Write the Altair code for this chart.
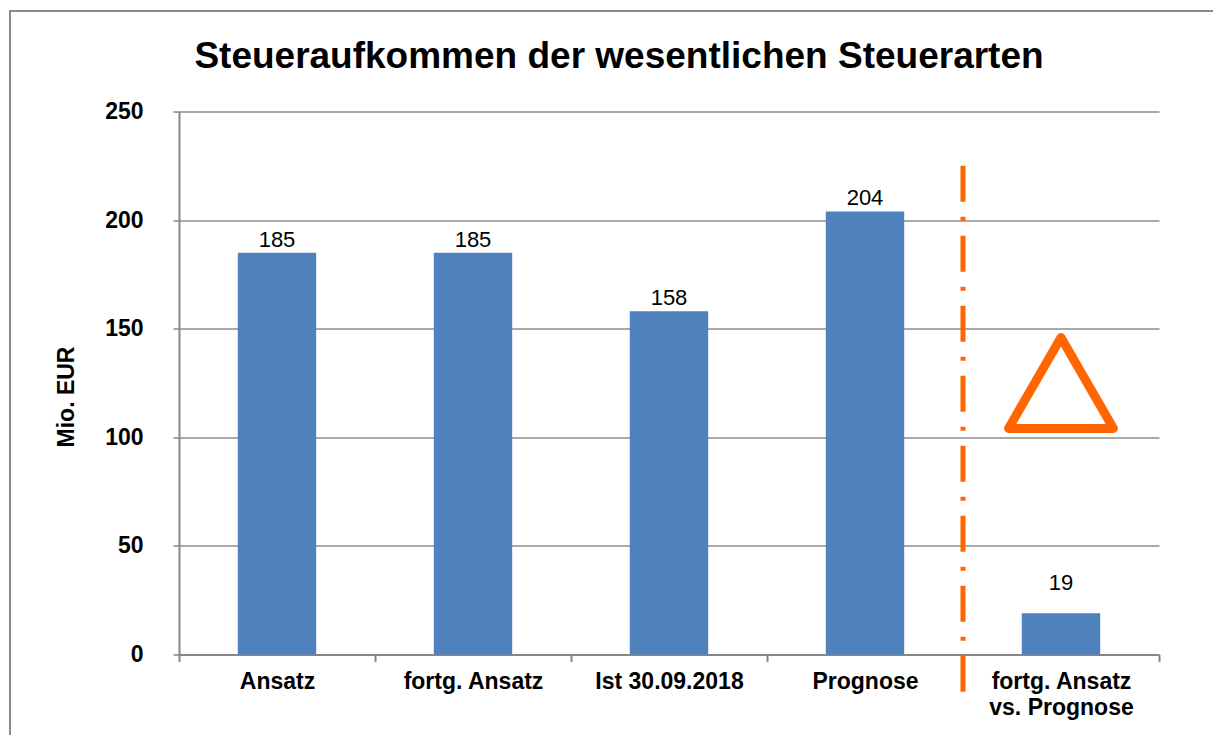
import altair as alt
import pandas as pd

# ---- data ----
categories = ["Ansatz", "fortg. Ansatz", "Ist 30.09.2018", "Prognose", "fortg. Ansatz\nvs. Prognose"]
values = [185, 185, 158, 204, 19]

# annotations
separator_category = ["fortg. Ansatz\nvs. Prognose"]
separator_top = [225]
separator_bottom = [-17.5]
delta_category = ["fortg. Ansatz\nvs. Prognose"]
delta_value = [125]

y_ticks = [0, 50, 100, 150, 200, 250]

FONT = "Liberation Sans"
BLUE = "#4F81BD"
ORANGE = "#FF6600"
GRAY = "#878787"

df = pd.DataFrame({"cat": categories, "val": values})
df["main"] = [True, True, True, True, False]

x_enc = alt.X(
    "cat:N",
    sort=categories,
    scale=alt.Scale(paddingInner=0, paddingOuter=0),
    axis=alt.Axis(
        title=None,
        labelAngle=0,
        labelFont=FONT,
        labelFontSize=23,
        labelFontWeight="bold",
        labelColor="black",
        labelPadding=9,
        labelLineHeight=26,
        labelExpr="split(datum.label, '\\n')",
        tickBand="extent",
        tickSize=7,
        tickColor=GRAY,
        tickWidth=2,
        domainColor=GRAY,
        domainWidth=2,
        grid=False,
    ),
)

y_scale = alt.Scale(domain=[0, 250], nice=False)
y_enc = alt.Y(
    "val:Q",
    scale=y_scale,
    axis=alt.Axis(
        title="Mio. EUR",
        titleFont=FONT,
        titleFontSize=23,
        titleFontWeight="bold",
        titleColor="black",
        titleAngle=-90,
        titleAlign="center",
        titleBaseline="alphabetic",
        titleX=-106,
        titleY=285,
        values=y_ticks,
        labelFont=FONT,
        labelFontSize=23,
        labelFontWeight="bold",
        labelColor="black",
        labelPadding=30,
        tickSize=6,
        tickColor=GRAY,
        tickWidth=1.5,
        domainColor=GRAY,
        domainWidth=2,
        grid=True,
        gridColor="#8C8C8C",
        gridWidth=1.5,
    ),
)

base = alt.Chart(df)

frame = alt.Chart(pd.DataFrame({"a": [0]})).mark_rect(
    filled=False, stroke="#8A8A8A", strokeWidth=2
).encode(
    x=alt.value(-169), x2=alt.value(1100), y=alt.value(-100.5), y2=alt.value(700)
)

bars = base.mark_bar(color=BLUE, width=alt.RelativeBandSize(0.4)).encode(x=x_enc, y=y_enc)

labels_main = base.transform_filter("datum.main").mark_text(
    font=FONT, fontSize=22, color="black", baseline="alphabetic", dy=-6
).encode(x=alt.X("cat:N", sort=categories), y=alt.Y("val:Q", scale=y_scale), text="val:Q")

labels_diff = base.transform_filter("!datum.main").mark_text(
    font=FONT, fontSize=22, color="black", baseline="alphabetic", dy=-23
).encode(x=alt.X("cat:N", sort=categories), y=alt.Y("val:Q", scale=y_scale), text="val:Q")

sep_df = pd.DataFrame({"cat": separator_category, "top": separator_top, "bottom": separator_bottom})
separator = alt.Chart(sep_df).mark_rule(
    color=ORANGE, strokeWidth=5, strokeDash=[36, 15, 4, 15]
).encode(
    x=alt.X("cat:N", sort=categories, bandPosition=0),
    y=alt.Y("top:Q", scale=y_scale),
    y2="bottom:Q",
)

delta_df = pd.DataFrame({"cat": delta_category, "val": delta_value})
delta = alt.Chart(delta_df).mark_point(
    shape="triangle-up", size=11000, filled=False, stroke=ORANGE, strokeWidth=9,
    strokeJoin="round", opacity=1
).encode(x=alt.X("cat:N", sort=categories), y=alt.Y("val:Q", scale=y_scale))

chart = alt.layer(frame, bars, labels_main, labels_diff, separator, delta).properties(
    width=980,
    height=543,
    autosize="none",
    padding={"left": 171, "top": 103.5, "right": 54, "bottom": 80},
    title=alt.TitleParams(
        text="Steueraufkommen der wesentlichen Steuerarten",
        font=FONT,
        fontSize=37,
        fontWeight="bold",
        color="black",
        anchor="middle",
        frame="group",
        baseline="alphabetic",
        offset=-95,
        dx=-50,
    ),
).configure_view(stroke=None)

chart.save("out.html", embed_options={"renderer": "svg", "actions": False})
